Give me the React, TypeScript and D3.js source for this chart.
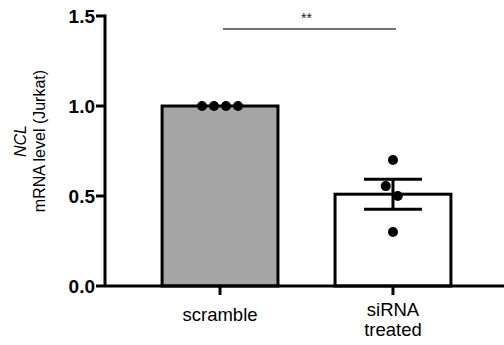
import React from "react";
import * as d3 from "d3";

const categories = ["scramble", "siRNA\ntreated"];
const means = [1.0, 0.51];
const sem = [0, 0.083];
const fills = ["#a6a6a6", "#ffffff"];
const points = [
  [1.0, 1.0, 1.0, 1.0],
  [0.7, 0.555, 0.5, 0.3],
];
// horizontal scatter offsets (in dot units) as the figure jitters them
const jitter = [
  [-1.5, -0.5, 0.5, 1.5],
  [0, -0.6, 0.4, 0],
];
const yTicks = [0, 0.5, 1.0, 1.5];

const W = 504;
const H = 345;
const margin = { top: 16, right: -4, bottom: 59, left: 105 };

export default function App() {
  const x = d3
    .scaleBand<string>()
    .domain(categories)
    .range([margin.left, W - margin.right])
    .paddingInner(0.33)
    .paddingOuter(0.33);
  const y = d3.scaleLinear().domain([0, 1.5]).range([H - margin.bottom, margin.top]);
  const bw = x.bandwidth();
  const dotStep = 12;

  const x0 = x(categories[0])! + bw / 2;
  const x1 = x(categories[1])! + bw / 2;

  return (
    <div style={{ position: "absolute", left: 0, top: 0 }}>
      <svg width={W} height={H} style={{ display: "block" }} fontFamily="Liberation Sans, Arial, sans-serif">
        {/* bars */}
        {categories.map((c, i) => (
          <rect
            key={c}
            x={x(c)}
            y={y(means[i])}
            width={bw}
            height={y(0) - y(means[i])}
            fill={fills[i]}
            stroke="#000"
            strokeWidth={3}
          />
        ))}

        {/* error bars */}
        {categories.map((c, i) => {
          if (!sem[i]) return null;
          const cx = x(c)! + bw / 2;
          return (
            <g key={c} stroke="#000" strokeWidth={3}>
              <line x1={cx} x2={cx} y1={y(means[i] + sem[i])} y2={y(means[i] - sem[i])} />
              <line x1={cx - 29} x2={cx + 29} y1={y(means[i] + sem[i])} y2={y(means[i] + sem[i])} />
              <line x1={cx - 29} x2={cx + 29} y1={y(means[i] - sem[i])} y2={y(means[i] - sem[i])} />
            </g>
          );
        })}

        {/* points */}
        {categories.map((c, i) =>
          points[i].map((v, j) => (
            <circle key={c + j} cx={x(c)! + bw / 2 + jitter[i][j] * dotStep} cy={y(v)} r={5} fill="#000" />
          ))
        )}

        {/* y axis */}
        <line x1={margin.left} x2={margin.left} y1={y(1.5) - 1.5} y2={y(0)} stroke="#000" strokeWidth={3} />
        {yTicks.map((t) => (
          <g key={t}>
            <line x1={margin.left - 9} x2={margin.left} y1={y(t)} y2={y(t)} stroke="#000" strokeWidth={3} />
            <text x={margin.left - 10} y={y(t)} dy="0.36em" textAnchor="end" fontSize={19} fontWeight="bold">
              {d3.format(".1f")(t)}
            </text>
          </g>
        ))}

        {/* x axis */}
        <line x1={margin.left} x2={W} y1={y(0)} y2={y(0)} stroke="#000" strokeWidth={3} />
        {categories.map((c) => {
          const cx = x(c)! + bw / 2;
          const lines = c.split("\n");
          return (
            <g key={c}>
              <line x1={cx} x2={cx} y1={y(0)} y2={y(0) + 9} stroke="#000" strokeWidth={3} />
              {lines.map((l, k) => (
                <text
                  key={l}
                  x={cx}
                  y={lines.length > 1 ? y(0) + 30 + k * 20 : y(0) + 35}
                  textAnchor="middle"
                  fontSize={18.5}
                >
                  {l}
                </text>
              ))}
            </g>
          );
        })}

        {/* y label */}
        <g transform={`translate(0,${(y(0) + y(1.5)) / 2 - 10}) rotate(-90)`}>
          <text x={0} y={26} textAnchor="middle" fontSize={16} fontStyle="italic">
            NCL
          </text>
          <text x={0} y={45} textAnchor="middle" fontSize={16}>
            mRNA level (Jurkat)
          </text>
        </g>

        {/* significance */}
        <line x1={x0 + 3} x2={x1 + 3} y1={29} y2={29} stroke="#444" strokeWidth={1.5} />
        <text x={(x0 + x1) / 2} y={23} textAnchor="middle" fontSize={14} fill="#222">
          **
        </text>
      </svg>
    </div>
  );
}
